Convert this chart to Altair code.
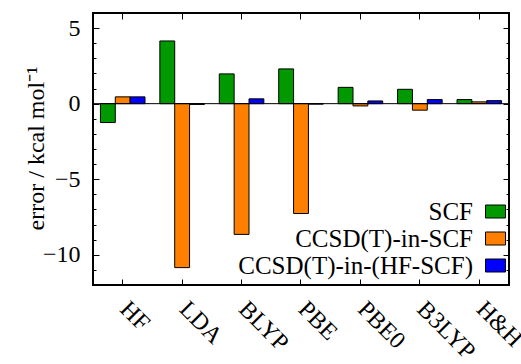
import altair as alt
import pandas as pd

methods = ["HF", "LDA", "BLYP", "PBE", "PBE0", "B3LYP", "H&H"]
series = ["SCF", "CCSD(T)-in-SCF", "CCSD(T)-in-(HF-SCF)"]
scf = [-1.25, 4.15, 1.97, 2.30, 1.08, 0.95, 0.27]
ccsd_in_scf = [0.45, -10.85, -8.65, -7.27, -0.15, -0.43, 0.12]
ccsd_in_hf_scf = [0.45, -0.05, 0.32, -0.03, 0.18, 0.27, 0.20]
colors = ["#009900", "#ff8000", "#0000ff"]
major_ticks = [-10, -5, 0, 5]
minor_ticks = [-12, -11, -10, -9, -8, -7, -6, -5, -4, -3, -2, -1, 0, 1, 2, 3, 4, 5, 6]
zero_line = [0]

rows = []
for s, vals in zip(series, [scf, ccsd_in_scf, ccsd_in_hf_scf]):
    for m, v in zip(methods, vals):
        rows.append({"method": m, "series": s, "value": v})
df = pd.DataFrame(rows)

W, H = 416, 272
FONT = "'Liberation Serif', 'Times New Roman', serif"

xscale = alt.Scale(paddingInner=0.25, paddingOuter=0.125)
yscale = alt.Scale(domain=[-12, 6], nice=False, zero=False)

bars = alt.Chart(df).mark_bar(stroke="black", strokeWidth=1, opacity=1).encode(
    x=alt.X("method:N", sort=methods, scale=xscale,
            axis=alt.Axis(orient="bottom", ticks=False, tickSize=0, domain=False,
                          labelAngle=45, labelAlign="left", labelBaseline="alphabetic",
                          labelPadding=25, labelOffset=-4,
                          labelFont=FONT, labelFontSize=24, labelColor="black",
                          title="")),
    xOffset=alt.XOffset("series:N", sort=series),
    y=alt.Y("value:Q", scale=yscale,
            axis=alt.Axis(orient="left", values=major_ticks, ticks=False, tickSize=0,
                          domain=False, grid=False, labelPadding=13,
                          labelExpr="datum.value < 0 ? '\u2212' + format(-datum.value, 'd') : format(datum.value, 'd')",
                          labelFont=FONT, labelFontSize=24, labelColor="black",
                          title="error / kcal mol\u207b\u00b9", titleFont=FONT,
                          titleFontSize=24, titleFontWeight="normal", titleColor="black",
                          titleX=-50, titleY=135, titleBaseline="alphabetic")),
    color=alt.Color("series:N", sort=series,
                    scale=alt.Scale(domain=series, range=colors),
                    legend=alt.Legend(orient="none", legendX=390, legendY=186, title=None,
                                      symbolType="M-1,-0.65H1V0.65H-1Z", symbolSize=400,
                                      symbolStrokeColor="black", symbolStrokeWidth=1,
                                      symbolOpacity=1, labelAlign="right",
                                      labelOffset={"expr": "-35"},
                                      labelFont=FONT, labelFontSize=25, labelColor="black",
                                      rowPadding=1, padding=0, labelLimit=400)),
)

zero = alt.Chart(pd.DataFrame({"z": zero_line})).mark_rule(color="black", strokeWidth=1).encode(
    y=alt.Y("z:Q", axis=None)
)


def tick_axis(orient, values, size):
    off = -(W if orient in ("left", "right") else H)
    return alt.Axis(orient=orient, offset={"expr": str(off)},
                    values=values, tickSize=size, tickWidth=1, tickColor="black",
                    labels=False, domain=False, grid=False, title="", zindex=2)


inv = alt.Chart(df).mark_point(opacity=0, size=0)

t1 = inv.encode(
    x=alt.X("method:N", sort=methods, axis=tick_axis("top", methods, 6)),
    y=alt.Y("value:Q", axis=tick_axis("right", major_ticks, 6)),
)
t2 = inv.encode(
    x=alt.X("method:N", sort=methods, axis=tick_axis("bottom", methods, 6)),
    y=alt.Y("value:Q", axis=tick_axis("left", major_ticks, 6)),
)
t3 = inv.encode(y=alt.Y("value:Q", axis=tick_axis("right", minor_ticks, 3)))
t4 = inv.encode(y=alt.Y("value:Q", axis=tick_axis("left", minor_ticks, 3)))

chart = alt.layer(bars, zero, t1, t2, t3, t4).resolve_axis(
    x="independent", y="independent"
).properties(
    width=W, height=H,
    padding={"left": 93, "top": 13, "right": 12, "bottom": 79},
    autosize=alt.AutoSizeParams(type="none"),
).configure_view(stroke="black", strokeWidth=2)

chart.save("out.html", embed_options={"renderer": "svg", "actions": False})
